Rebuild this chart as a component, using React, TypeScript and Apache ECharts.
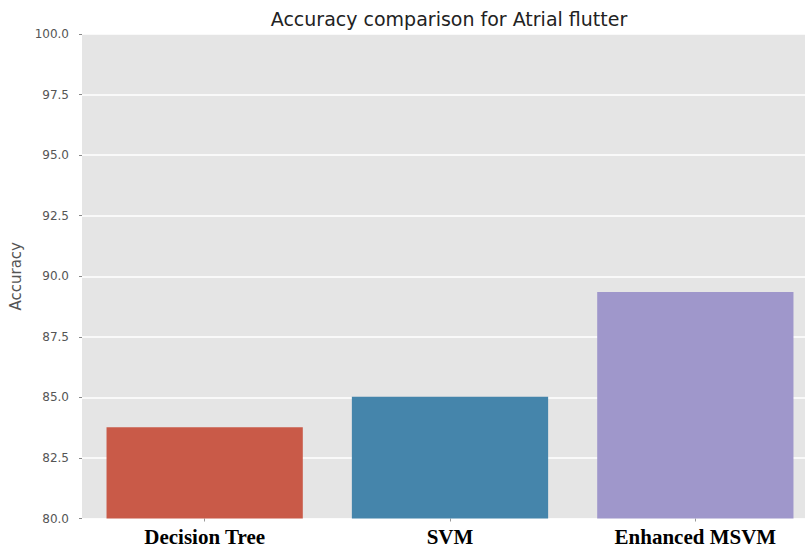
import React, { useEffect, useRef } from "react";
import * as echarts from "echarts";

const categories = ["Decision Tree", "SVM", "Enhanced MSVM"];
const accuracy = [83.77, 85.03, 89.35];
const barColors = ["#C95A48", "#4585AB", "#9F97CB"];
const yTicks = { min: 80, max: 100, interval: 2.5 };
const titleText = "Accuracy comparison for Atrial flutter";
const yAxisName = "Accuracy";

export default function App() {
  const ref = useRef<HTMLDivElement>(null);
  useEffect(() => {
    if (!ref.current) return;
    const chart = echarts.init(ref.current, null, { renderer: "svg" });
    chart.setOption({
      animation: false,
      backgroundColor: "#ffffff",
      graphic: [
        {
          type: "text",
          x: 449,
          y: 19,
          style: {
            text: titleText,
            fontFamily: "DejaVu Sans",
            fontSize: 19,
            fill: "#222222",
            textAlign: "center",
            textVerticalAlign: "middle",
          },
        },
      ],
      grid: {
        left: 82,
        width: 736,
        top: 34,
        bottom: 30.5,
        outerBoundsMode: "none",
        containLabel: false,
        show: true,
        backgroundColor: "#E5E5E5",
        borderWidth: 0,
      },
      xAxis: {
        type: "category",
        data: categories,
        axisLine: { show: false },
        axisTick: { show: true, alignWithLabel: true, length: 3, lineStyle: { color: "#999" } },
        axisLabel: {
          margin: 8,
          fontFamily: "Liberation Serif",
          fontWeight: "bold",
          fontSize: 21,
          lineHeight: 21,
          color: "#000000",
        },
        splitLine: { show: false },
      },
      yAxis: {
        type: "value",
        min: yTicks.min,
        max: yTicks.max,
        interval: yTicks.interval,
        name: yAxisName,
        nameLocation: "middle",
        nameGap: 53,
        nameRotate: 90,
        nameTextStyle: { fontFamily: "DejaVu Sans", fontSize: 15, color: "#555555" },
        axisLine: { show: false },
        axisTick: { show: true, length: 3, lineStyle: { color: "#888" } },
        axisLabel: {
          margin: 13,
          fontFamily: "DejaVu Sans",
          fontSize: 12,
          color: "#555555",
          formatter: (v: number) => v.toFixed(1),
        },
        splitLine: { show: true, lineStyle: { color: "#ffffff", width: 1.5 } },
      },
      series: [
        {
          type: "bar",
          barWidth: "80%",
          data: accuracy.map((v, i) => ({ value: v, itemStyle: { color: barColors[i] } })),
        },
      ],
    });
    return () => chart.dispose();
  }, []);
  return (
    <div
      ref={ref}
      style={{ position: "absolute", left: 0, top: 0, width: 805, height: 549 }}
    />
  );
}
